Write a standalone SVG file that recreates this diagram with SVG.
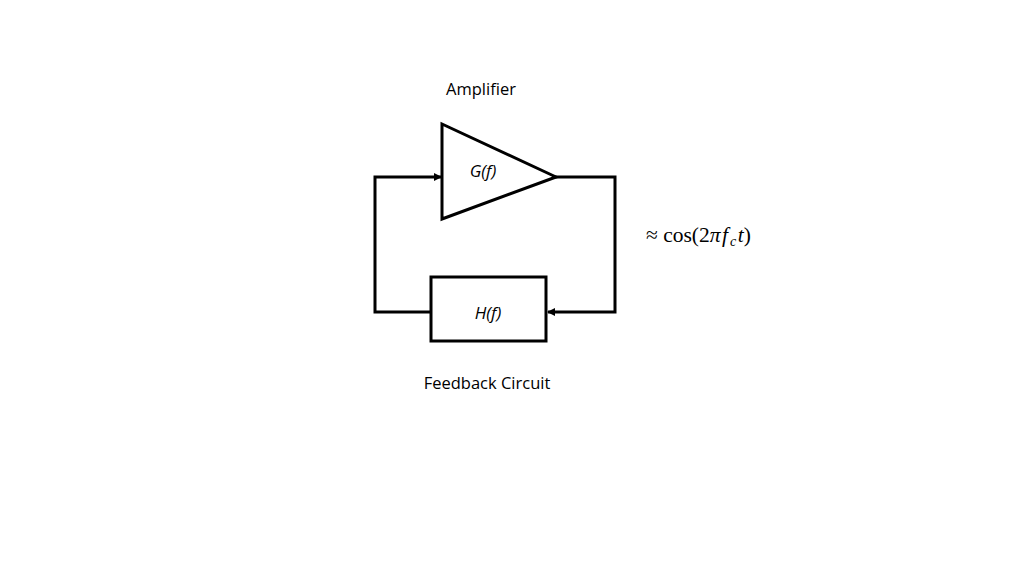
<svg xmlns="http://www.w3.org/2000/svg" width="1024" height="576" viewBox="0 0 1024 576">
<style>
.lbl{font-family:"Open Sans","Noto Sans",sans-serif;font-size:16.5px;fill:#000}
.it{font-family:"Open Sans","Noto Sans",sans-serif;font-size:17px;font-style:italic;fill:#000}
.shape{fill:#fff;stroke:#000;stroke-width:3}
.wire{fill:none;stroke:#000;stroke-width:3}
.math{font-family:"Liberation Serif","DejaVu Serif",serif;font-size:21.5px;fill:#000}
</style>
<defs>
<marker id="arr" markerWidth="8" markerHeight="8" refX="7" refY="4" orient="auto" markerUnits="userSpaceOnUse">
<path d="M0,0 L8,4 L0,8 Z" fill="#000"/>
</marker>
</defs>
<rect width="1024" height="576" fill="#fff"/>
<g id="connectors">
<path class="wire" d="M555,177 L615,177 L615,312 L548,312" marker-end="url(#arr)"/>
<path class="wire" d="M431,312 L375,312 L375,177 L441,177" marker-end="url(#arr)"/>
</g>
<g id="amplifier">
<polygon class="shape" points="442,124 442,219 556,177"/>
<text class="it" x="483" y="177" text-anchor="middle">G(f)</text>
<text class="lbl" x="481" y="95" text-anchor="middle">Amplifier</text>
</g>
<g id="feedback">
<rect class="shape" x="431" y="277" width="115" height="64"/>
<text class="it" x="488" y="319" text-anchor="middle">H(f)</text>
<text class="lbl" x="487" y="389" text-anchor="middle">Feedback Circuit</text>
</g>
<g id="signal">
<text class="math" x="646" y="242">≈ cos(2<tspan font-style="italic">π</tspan><tspan font-style="italic" dx="1.5">f</tspan><tspan font-style="italic" font-size="14" dx="2" dy="4">c</tspan><tspan font-style="italic" dx="1.5" dy="-4">t</tspan>)</text>
</g>
</svg>
